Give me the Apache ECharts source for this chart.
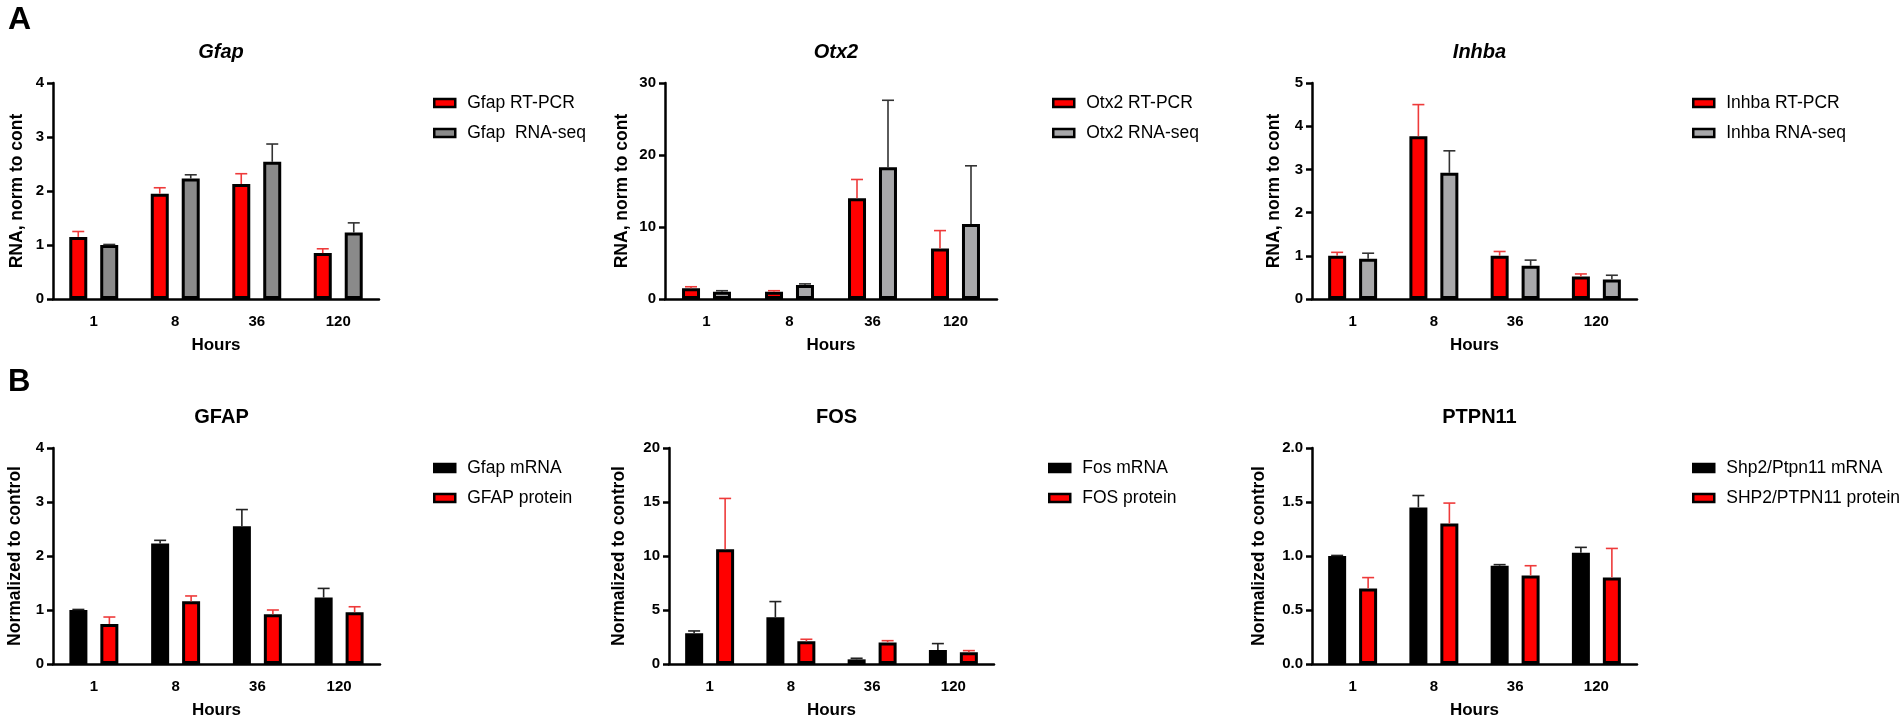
<!DOCTYPE html>
<html>
<head>
<meta charset="utf-8">
<script src="https://cdn.jsdelivr.net/npm/echarts@6/dist/echarts.min.js"></script>
<style>
html, body { margin: 0; padding: 0; background: #fff; }
#chart { width: 1902px; height: 725px; }
</style>
</head>
<body>
<div id="chart"></div>
<script>
// categories
var hours = ['1', '8', '36', '120'];

// A: Gfap
var gfapPcr = [1.15, 1.95, 2.13, 0.85];
var gfapPcrErr = [0.10, 0.11, 0.19, 0.08];
var gfapSeq = [1.0, 2.23, 2.54, 1.23];
var gfapSeqErr = [0.01, 0.07, 0.33, 0.18];
// A: Otx2
var otx2Pcr = [1.5, 1.0, 14.0, 7.0];
var otx2PcrErr = [0.2, 0.15, 2.6, 2.5];
var otx2Seq = [1.0, 1.93, 18.3, 10.4];
var otx2SeqErr = [0.15, 0.17, 9.3, 8.1];
// A: Inhba
var inhbaPcr = [1.0, 3.77, 1.0, 0.52];
var inhbaPcrErr = [0.08, 0.73, 0.10, 0.06];
var inhbaSeq = [0.93, 2.92, 0.77, 0.45];
var inhbaSeqErr = [0.13, 0.51, 0.13, 0.10];
// B: GFAP
var gfapMrna = [1.0, 2.23, 2.55, 1.23];
var gfapMrnaErr = [0.01, 0.06, 0.31, 0.17];
var gfapProt = [0.74, 1.16, 0.92, 0.96];
var gfapProtErr = [0.13, 0.10, 0.08, 0.10];
// B: FOS
var fosMrna = [2.84, 4.33, 0.43, 1.30];
var fosMrnaErr = [0.22, 1.45, 0.10, 0.59];
var fosProt = [10.63, 2.10, 2.00, 1.08];
var fosProtErr = [4.70, 0.19, 0.16, 0.16];
// B: PTPN11
var ptpnMrna = [1.0, 1.45, 0.91, 1.03];
var ptpnMrnaErr = [0.005, 0.11, 0.01, 0.05];
var ptpnProt = [0.70, 1.30, 0.82, 0.80];
var ptpnProtErr = [0.10, 0.19, 0.09, 0.27];

var FONT = 'Liberation Sans, Arial, sans-serif';
var RED = '#ff0000', RED_ERR = '#ee3a3a';
var GRAY_DARK = '#8a8a8a', GRAY_LIGHT = '#a8a8aa';
var BAR_W = 18, BAR_GAP = '72%', OFF = 15.5;

var panels = [
    {title: 'Gfap', italic: true, yName: 'RNA, norm to cont', max: 4, interval: 1,
     left: 53, width: 326, top: 83, nameGap: 27, legendLeft: 428,
     s: [{name: 'Gfap RT-PCR', v: gfapPcr, e: gfapPcrErr, c: RED, ec: RED_ERR},
         {name: 'Gfap  RNA-seq', v: gfapSeq, e: gfapSeqErr, c: GRAY_DARK, ec: '#333'}]},
    {title: 'Otx2', italic: true, yName: 'RNA, norm to cont', max: 30, interval: 10,
     left: 665, width: 332, top: 83, nameGap: 34, legendLeft: 1047,
     s: [{name: 'Otx2 RT-PCR', v: otx2Pcr, e: otx2PcrErr, c: RED, ec: RED_ERR},
         {name: 'Otx2 RNA-seq', v: otx2Seq, e: otx2SeqErr, c: GRAY_LIGHT, ec: '#333'}]},
    {title: 'Inhba', italic: true, yName: 'RNA, norm to cont', max: 5, interval: 1,
     left: 1312, width: 325, top: 83, nameGap: 29, legendLeft: 1687,
     s: [{name: 'Inhba RT-PCR', v: inhbaPcr, e: inhbaPcrErr, c: RED, ec: RED_ERR},
         {name: 'Inhba RNA-seq', v: inhbaSeq, e: inhbaSeqErr, c: GRAY_LIGHT, ec: '#333'}]},
    {title: 'GFAP', italic: false, yName: 'Normalized to control', max: 4, interval: 1,
     left: 53, width: 327, top: 448, nameGap: 29, legendLeft: 428,
     s: [{name: 'Gfap mRNA', v: gfapMrna, e: gfapMrnaErr, c: '#000', ec: '#222'},
         {name: 'GFAP protein', v: gfapProt, e: gfapProtErr, c: RED, ec: RED_ERR}]},
    {title: 'FOS', italic: false, yName: 'Normalized to control', max: 20, interval: 5,
     left: 669, width: 325, top: 448, nameGap: 41, legendLeft: 1043,
     s: [{name: 'Fos mRNA', v: fosMrna, e: fosMrnaErr, c: '#000', ec: '#222'},
         {name: 'FOS protein', v: fosProt, e: fosProtErr, c: RED, ec: RED_ERR}]},
    {title: 'PTPN11', italic: false, yName: 'Normalized to control', max: 2, interval: 0.5, dec: 1,
     left: 1312, width: 325, top: 448, nameGap: 44, legendLeft: 1687,
     s: [{name: 'Shp2/Ptpn11 mRNA', v: ptpnMrna, e: ptpnMrnaErr, c: '#000', ec: '#222'},
         {name: 'SHP2/PTPN11 protein', v: ptpnProt, e: ptpnProtErr, c: RED, ec: RED_ERR}]}
];

var PLOT_H = 216;
var option = {
    backgroundColor: '#fff',
    animation: false,
    textStyle: {fontFamily: FONT, color: '#000'},
    title: [], grid: [], xAxis: [], yAxis: [], legend: [], series: [],
    graphic: [
        {type: 'text', left: 8, top: 4, style: {text: 'A', font: 'bold 32px ' + FONT, fill: '#000'}},
        {type: 'text', left: 8, top: 367, style: {text: 'B', font: 'bold 31px ' + FONT, fill: '#000'}}
    ]
};

function errRenderer(off, col) {
    return function(params, api) {
        var base = api.coord([api.value(0), api.value(1)]);
        var tip = api.coord([api.value(0), api.value(1) + api.value(2)]);
        var x = base[0] + off;
        return {type: 'group', children: [
            {type: 'line', shape: {x1: x, y1: base[1], x2: x, y2: tip[1]}, style: {stroke: col, lineWidth: 1.6}},
            {type: 'line', shape: {x1: x - 6, y1: tip[1], x2: x + 6, y2: tip[1]}, style: {stroke: col, lineWidth: 1.6}}
        ]};
    };
}

panels.forEach(function(p, i) {
    option.title.push({
        text: p.title, left: p.left + p.width / 2, top: p.top - 46, textAlign: 'center',
        textStyle: {fontFamily: FONT, fontSize: 20, fontWeight: 'bold', fontStyle: p.italic ? 'italic' : 'normal', color: '#000'}
    });
    option.grid.push({left: p.left, top: p.top, width: p.width, height: PLOT_H});
    option.xAxis.push({
        type: 'category', gridIndex: i, data: hours,
        name: 'Hours', nameLocation: 'middle', nameGap: 38,
        nameTextStyle: {fontFamily: FONT, fontSize: 17, fontWeight: 'bold', color: '#000'},
        axisLine: {lineStyle: {color: '#000', width: 2.5}},
        axisTick: {alignWithLabel: true, length: 9, lineStyle: {color: '#000', width: 2.5}},
        axisLabel: {margin: 15, fontFamily: FONT, fontSize: 15, fontWeight: 'bold', color: '#000'},
        splitLine: {show: false}
    });
    option.yAxis.push({
        type: 'value', gridIndex: i, min: 0, max: p.max, interval: p.interval,
        name: p.yName, nameLocation: 'middle', nameGap: p.nameGap,
        nameTextStyle: {fontFamily: FONT, fontSize: 17.5, fontWeight: 'bold', color: '#000'},
        axisLine: {show: true, lineStyle: {color: '#000', width: 2.5}},
        axisTick: {show: true, length: 6, lineStyle: {color: '#000', width: 2.5}},
        axisLabel: {margin: 9, fontFamily: FONT, fontSize: 15, fontWeight: 'bold', color: '#000',
            formatter: function(v) { return p.dec ? v.toFixed(p.dec) : String(v); }},
        splitLine: {show: false}
    });
    option.legend.push({
        orient: 'vertical', left: p.legendLeft, top: p.top + 6, itemGap: 12,
        icon: 'rect', itemWidth: 21, itemHeight: 8,
        itemStyle: {borderColor: '#000', borderWidth: 2.5},
        textStyle: {fontFamily: FONT, fontSize: 17.5, color: '#000', padding: [0, 0, 0, 7]},
        data: p.s.map(function(s) { return s.name; })
    });
    p.s.forEach(function(s, k) {
        option.series.push({
            type: 'bar', name: s.name, xAxisIndex: i, yAxisIndex: i,
            data: s.v, barWidth: BAR_W, barGap: BAR_GAP,
            itemStyle: {color: s.c, borderColor: '#000', borderWidth: 3}
        });
        option.series.push({
            type: 'custom', name: s.name + ' err', xAxisIndex: i, yAxisIndex: i, z: 3,
            renderItem: errRenderer(k === 0 ? -OFF : OFF, s.ec),
            data: hours.map(function(h, j) { return [j, s.v[j], s.e[j]]; })
        });
    });
});

var myChart = echarts.init(document.getElementById('chart'));
myChart.setOption(option);
window.addEventListener('resize', function() {
    myChart.resize();
});
</script>
</body>
</html>
